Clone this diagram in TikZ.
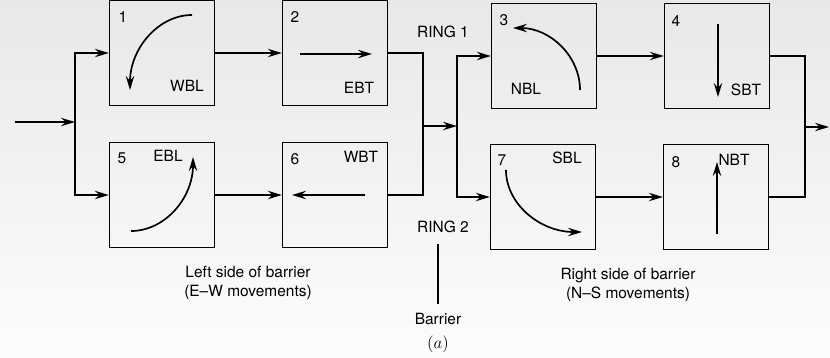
\documentclass[tikz,border=0pt]{standalone}
\usepackage{fontspec}
\setmainfont{TeX Gyre Heros}
\usetikzlibrary{arrows.meta}

\begin{document}
\begin{tikzpicture}[>={Stealth[length=10pt, width=6pt, inset=3.5pt]}, x=0.025cm, y=-0.025cm,
    phase/.style={draw, line width=1.1pt, minimum width=2.62cm, minimum height=2.62cm, inner sep=0pt},
    flow/.style={->, line width=1.1pt},
    wire/.style={line width=1.1pt},
    move/.style={->, line width=1.2pt},
    tag/.style={font=\fontsize{11}{13}\selectfont, inner sep=1pt}]
    \useasboundingbox[top color=black!9, bottom color=black!1] (0,0) rectangle (830,357);

    % phase boxes, ring 1 on top, ring 2 below
    \node[phase] (p1) at (162,53) {};
    \node[phase] (p2) at (335,53) {};
    \node[phase] (p3) at (544,56) {};
    \node[phase] (p4) at (717,56) {};
    \node[phase] (p5) at (162,195) {};
    \node[phase] (p6) at (335,195) {};
    \node[phase] (p7) at (543,197) {};
    \node[phase] (p8) at (716,197) {};

    % phase numbers and movements
    \node[tag] (n1) at (123,17) {1};
    \node[tag] (n2) at (295,17) {2};
    \node[tag] (n3) at (504,20) {3};
    \node[tag] (n4) at (676,21) {4};
    \node[tag] (n5) at (122,158) {5};
    \node[tag] (n6) at (295,159) {6};
    \node[tag] (n7) at (502,160) {7};
    \node[tag] (n8) at (676,162) {8};
    \node[tag] (m1) at (187,86) {WBL};
    \node[tag] (m2) at (359,88) {EBT};
    \node[tag] (m3) at (526,89) {NBL};
    \node[tag] (m4) at (746,90) {SBT};
    \node[tag] (m5) at (168,156) {EBL};
    \node[tag] (m6) at (361,157) {WBT};
    \node[tag] (m7) at (567,158) {SBL};
    \node[tag] (m8) at (734,160) {NBT};

    % movement arrows
    \draw[move] (192,15) .. controls (158,15) and (130,49) .. (130,90);
    \draw[move] (300,54) -- (372,54);
    \draw[move] (580,90) .. controls (580,56) and (550,28) .. (513,28);
    \draw[move] (718,24) -- (718,97);
    \draw[move] (131,231) .. controls (165,231) and (193,198) .. (193,157);
    \draw[move] (365,195) -- (292,195);
    \draw[move] (506,170) .. controls (506,204) and (540,232) .. (582,232);
    \draw[move] (717,234) -- (717,162);

    % branch points
    \coordinate (in) at (15,122);
    \coordinate (s1) at (75,122);
    \coordinate (j1) at (423,126);
    \coordinate (s2) at (457,126);
    \coordinate (j2) at (805,127);
    \coordinate (out) at (829,127);

    \draw[flow] (in) -- (s1);
    \draw[flow] (s1) |- (p1);
    \draw[flow] (s1) |- (p5);
    \draw[flow] (p1) -- (p2);
    \draw[flow] (p5) -- (p6);
    \draw[wire] (p2) -| (j1);
    \draw[wire] (p6) -| (j1);
    \draw[flow] (j1) -- (s2);
    \draw[flow] (s2) |- (p3);
    \draw[flow] (s2) |- (p7);
    \draw[flow] (p3) -- (p4);
    \draw[flow] (p7) -- (p8);
    \draw[wire] (p4) -| (j2);
    \draw[wire] (p8) -| (j2);
    \draw[flow] (j2) -- (out);

    % ring and barrier labels
    \node[tag] (ring1) at (443,32) {RING 1};
    \node[tag] (ring2) at (443,227) {RING 2};
    \node[tag] (barrier) at (438,319) {Barrier};
    \node[font=\fontsize{12}{14}\selectfont] (fig) at (438,344) {$(a)$};
    \draw[line width=0.9pt] (barrier.north) ++(0,-8) -- ++(0,-60);

    \node[tag, align=center] (left) at (248,283) {Left side of barrier\\(E--W movements)};
    \node[tag, align=center] (right) at (628,285) {Right side of barrier\\(N--S movements)};
\end{tikzpicture}
\end{document}
